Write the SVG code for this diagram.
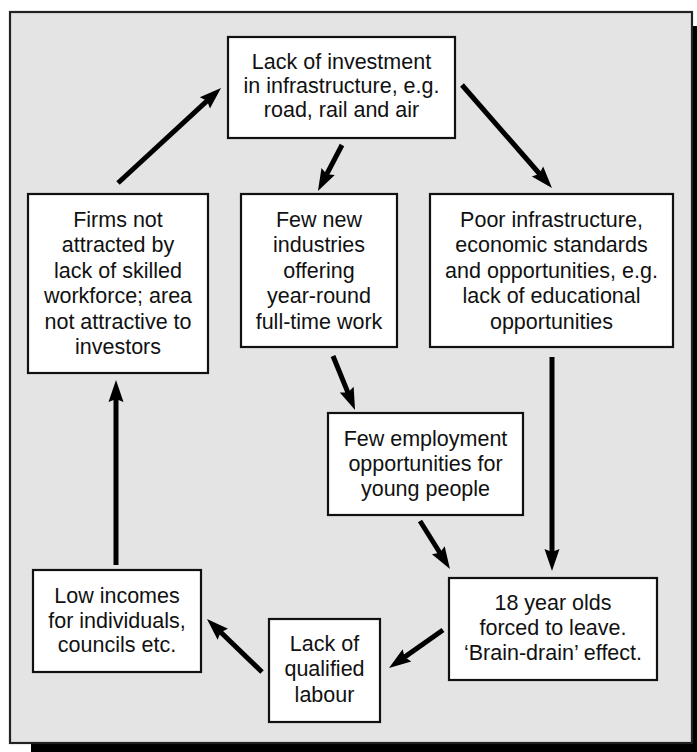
<svg xmlns="http://www.w3.org/2000/svg" width="697" height="752" viewBox="0 0 697 752">
<style>
.box{fill:#fff;stroke:#111;stroke-width:2.2}
.t{font-family:"Liberation Sans",Arial,sans-serif;font-size:21.5px;fill:#111;text-anchor:middle}
.ar{stroke:#000;stroke-width:5;fill:none;marker-end:url(#ah)}
</style>
<defs>
<marker id="ah" markerUnits="userSpaceOnUse" markerWidth="30" markerHeight="20" viewBox="0 -10 30 20" refX="10" refY="0" orient="auto">
<path d="M0,-7.5 L22,0 L0,7.5 L3,0 z" fill="#000"/>
</marker>
</defs>
<rect x="31" y="26" width="670" height="730" fill="#000"/>
<rect x="10" y="12" width="682" height="731" fill="#e4e4e4" stroke="#222" stroke-width="2.2"/>
<g id="connectors">
<line class="ar" x1="342" y1="145" x2="323.5" y2="180.4"/>
<line class="ar" x1="462" y1="85" x2="544.1" y2="179"/>
<line class="ar" x1="118" y1="183" x2="212.2" y2="96.1"/>
<line class="ar" x1="333" y1="356" x2="350.5" y2="398.9"/>
<line class="ar" x1="420" y1="521" x2="443.6" y2="558.8"/>
<line class="ar" x1="552" y1="357" x2="552" y2="559"/>
<line class="ar" x1="443" y1="630" x2="398.8" y2="661.1"/>
<line class="ar" x1="262" y1="672" x2="215.6" y2="627.3"/>
<line class="ar" x1="116" y1="565" x2="116" y2="392"/>
</g>
<g id="n-invest">
<rect class="box" x="228" y="37" width="227" height="101"/>
<text class="t" x="341.5" y="69">Lack of investment</text>
<text class="t" x="341.5" y="93">in infrastructure, e.g.</text>
<text class="t" x="341.5" y="117">road, rail and air</text>
</g>
<g id="n-firms">
<rect class="box" x="28" y="194" width="180" height="179"/>
<text class="t" x="118" y="227">Firms not</text>
<text class="t" x="118" y="252.4">attracted by</text>
<text class="t" x="118" y="277.8">lack of skilled</text>
<text class="t" x="118" y="303.2">workforce; area</text>
<text class="t" x="118" y="328.6">not attractive to</text>
<text class="t" x="118" y="354">investors</text>
</g>
<g id="n-fewnew">
<rect class="box" x="241" y="194" width="156" height="153"/>
<text class="t" x="319" y="227">Few new</text>
<text class="t" x="319" y="252.4">industries</text>
<text class="t" x="319" y="277.8">offering</text>
<text class="t" x="319" y="303.2">year-round</text>
<text class="t" x="319" y="328.6">full-time work</text>
</g>
<g id="n-poor">
<rect class="box" x="430" y="194" width="243" height="153"/>
<text class="t" x="551.5" y="227">Poor infrastructure,</text>
<text class="t" x="551.5" y="252.4">economic standards</text>
<text class="t" x="551.5" y="277.8">and opportunities, e.g.</text>
<text class="t" x="551.5" y="303.2">lack of educational</text>
<text class="t" x="551.5" y="328.6">opportunities</text>
</g>
<g id="n-fewemp">
<rect class="box" x="328" y="413" width="195" height="102"/>
<text class="t" x="425.5" y="446">Few employment</text>
<text class="t" x="425.5" y="471">opportunities for</text>
<text class="t" x="425.5" y="496">young people</text>
</g>
<g id="n-leave">
<rect class="box" x="449" y="578" width="208" height="102"/>
<text class="t" x="553" y="610">18 year olds</text>
<text class="t" x="553" y="635">forced to leave.</text>
<text class="t" x="553" y="660">‘Brain-drain’ effect.</text>
</g>
<g id="n-labour">
<rect class="box" x="269" y="619" width="111" height="103"/>
<text class="t" x="324.5" y="651">Lack of</text>
<text class="t" x="324.5" y="676">qualified</text>
<text class="t" x="324.5" y="702">labour</text>
</g>
<g id="n-income">
<rect class="box" x="33" y="570" width="168" height="102"/>
<text class="t" x="117" y="603">Low incomes</text>
<text class="t" x="117" y="628">for individuals,</text>
<text class="t" x="117" y="652">councils etc.</text>
</g>
</svg>
